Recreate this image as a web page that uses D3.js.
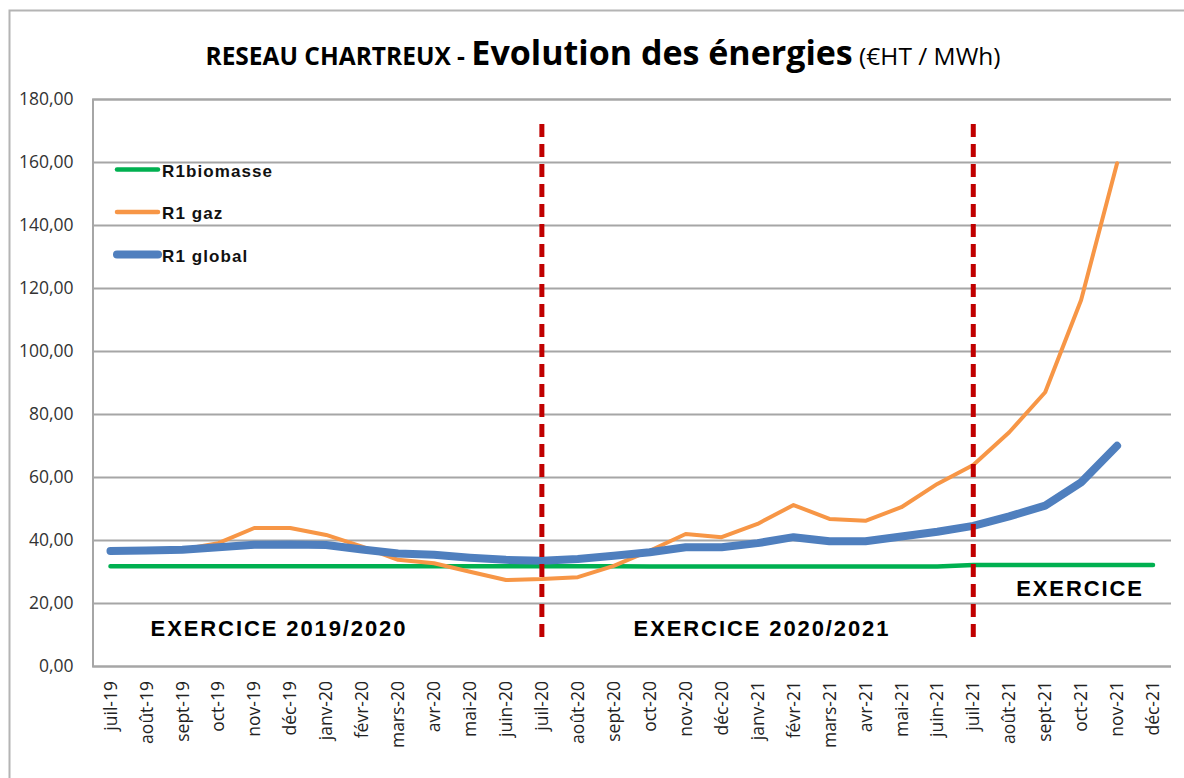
<!DOCTYPE html>
<html>
<head>
<meta charset="utf-8">
<script src="https://cdn.jsdelivr.net/npm/d3@7"></script>
<style>
  body { margin: 0; background: #fff; }
  svg { display: block; }
</style>
</head>
<body>
<svg></svg>
<script>
// Data
var months = ["juil-19","août-19","sept-19","oct-19","nov-19","déc-19","janv-20","févr-20","mars-20","avr-20","mai-20","juin-20",
              "juil-20","août-20","sept-20","oct-20","nov-20","déc-20","janv-21","févr-21","mars-21","avr-21","mai-21","juin-21",
              "juil-21","août-21","sept-21","oct-21","nov-21","déc-21"];

var r1Biomasse = [31.7,31.7,31.7,31.7,31.7,31.7,31.7,31.7,31.7,31.7,31.7,31.7,
                  31.7,31.7,31.7,31.6,31.6,31.6,31.6,31.6,31.6,31.6,31.6,31.6,
                  32.1,32.1,32.1,32.1,32.1,32.1];

var r1Gaz = [36.5,36.7,37.0,39.0,43.8,43.8,41.6,37.9,33.7,32.6,29.9,27.3,
             27.6,28.2,31.8,36.6,41.9,40.9,45.1,51.1,46.7,46.1,50.4,57.8,
             63.8,74.2,86.9,116.2,159.6,null];

var r1Global = [36.5,36.7,36.9,37.7,38.5,38.6,38.4,37.0,35.7,35.3,34.4,33.7,
                33.4,34.0,35.0,36.1,37.7,37.7,39.0,40.9,39.6,39.6,41.1,42.6,
                44.5,47.5,50.9,58.3,69.9,null];

var yTicks = [0,20,40,60,80,100,120,140,160,180];
var seriesNames = ["R1biomasse","R1 gaz","R1 global"];
var seriesColors = ["#00b050","#f79646","#4f7fbe"];
var seriesWidths = [4.5,4,8];
var exerciceStarts = ["juil-20","juil-21"];

var W = 1184, H = 778;
var svg = d3.select("svg").attr("width", W).attr("height", H);

// outer frame
svg.append("rect")
	.attr("x", 9.5).attr("y", 10.5)
	.attr("width", 1300).attr("height", 900)
	.attr("fill", "#fff")
	.attr("stroke", "#b4b4b4")
	.attr("stroke-width", 2);

// Title
var title = svg.append("text")
	.attr("x", 603).attr("y", 65)
	.attr("text-anchor", "middle")
	.attr("font-family", "'Open Sans', sans-serif")
	.attr("fill", "#000");
title.append("tspan").attr("font-size", "24.5px").attr("font-weight", "bold").text("RESEAU CHARTREUX - ");
title.append("tspan").attr("font-size", "34px").attr("font-weight", "bold").text("Evolution des énergies");
title.append("tspan").attr("font-size", "24.5px").text(" (€HT / MWh)");

// Scales
var x = d3.scaleBand().domain(months).range([92.5, 1171]).padding(0);
var y = d3.scaleLinear().domain([0, 180]).range([666, 99]);
var cx = function(m) { return x(m) + x.bandwidth() / 2; };

var fr = d3.formatLocale({decimal: ",", thousands: " ", grouping: [3], currency: ["", "€"]});
var fmt = fr.format(".2f");

// Y axis with gridlines
var yAxis = svg.append("g")
	.attr("transform", "translate(92.5,0)")
	.call(d3.axisLeft(y).tickValues(yTicks).tickSize(-(1171 - 92.5)).tickPadding(19).tickFormat(fmt));
yAxis.select(".domain").attr("stroke", "#a6a6a6").attr("stroke-width", 2);
yAxis.selectAll(".tick line").attr("stroke", "#a6a6a6").attr("stroke-width", 2);
yAxis.selectAll(".tick text")
	.attr("font-family", "'Open Sans', sans-serif")
	.attr("font-size", "17.5px")
	.attr("fill", "#333");

// X axis labels
var xAxis = svg.append("g")
	.attr("transform", "translate(0,666)")
	.call(d3.axisBottom(x).tickSize(0));
xAxis.select(".domain").remove();
xAxis.selectAll(".tick text")
	.attr("font-family", "'Open Sans', sans-serif")
	.attr("font-size", "17.5px")
	.attr("fill", "#222")
	.attr("text-anchor", "end")
	.attr("transform", "rotate(-90)")
	.attr("x", -15)
	.attr("y", 0)
	.attr("dy", "0.35em");

// Lines
var allSeries = [r1Biomasse, r1Gaz, r1Global];
var line = d3.line()
	.defined(function(d) { return d != null; })
	.x(function(d, i) { return cx(months[i]); })
	.y(function(d) { return y(d); });

svg.append("g").selectAll("path")
	.data(allSeries)
	.enter().append("path")
		.attr("d", line)
		.attr("fill", "none")
		.attr("stroke", function(d, i) { return seriesColors[i]; })
		.attr("stroke-width", function(d, i) { return seriesWidths[i]; })
		.attr("stroke-linecap", "round")
		.attr("stroke-linejoin", "round");

// Legend
var legend = svg.append("g").attr("class", "legend");
legend.selectAll("line")
	.data(seriesNames)
	.enter().append("line")
		.attr("x1", 117).attr("x2", 158)
		.attr("y1", function(d, i) { return 169.5 + i * 42.5; })
		.attr("y2", function(d, i) { return 169.5 + i * 42.5; })
		.attr("stroke", function(d, i) { return seriesColors[i]; })
		.attr("stroke-width", function(d, i) { return i == 2 ? 8 : 4.5; })
		.attr("stroke-linecap", "round");
legend.selectAll("text")
	.data(seriesNames)
	.enter().append("text")
		.attr("x", 162)
		.attr("y", function(d, i) { return 176.5 + i * 42.5; })
		.attr("font-family", "'Liberation Sans', Arial, sans-serif")
		.attr("font-weight", "bold")
		.attr("font-size", "17px")
		.attr("letter-spacing", "1.1px")
		.attr("fill", "#111")
		.text(function(d) { return d; });

// Exercice separators
svg.append("g").selectAll("line")
	.data(exerciceStarts)
	.enter().append("line")
		.attr("x1", function(d) { return cx(d); })
		.attr("x2", function(d) { return cx(d); })
		.attr("y1", 124).attr("y2", 640)
		.attr("stroke", "#c00000")
		.attr("stroke-width", 5)
		.attr("stroke-dasharray", "13,7");

// Exercice labels
var exLabels = [
	{t: "EXERCICE 2019/2020", x: 279, y: 636},
	{t: "EXERCICE 2020/2021", x: 762, y: 636},
	{t: "EXERCICE", x: 1080, y: 596}
];
svg.append("g").selectAll("text")
	.data(exLabels)
	.enter().append("text")
		.attr("x", function(d) { return d.x; })
		.attr("y", function(d) { return d.y; })
		.attr("text-anchor", "middle")
		.attr("font-family", "'Liberation Sans', Arial, sans-serif")
		.attr("font-weight", "bold")
		.attr("font-size", "22px")
		.attr("letter-spacing", "1.9px")
		.attr("fill", "#000")
		.text(function(d) { return d.t; });
</script>
</body>
</html>
